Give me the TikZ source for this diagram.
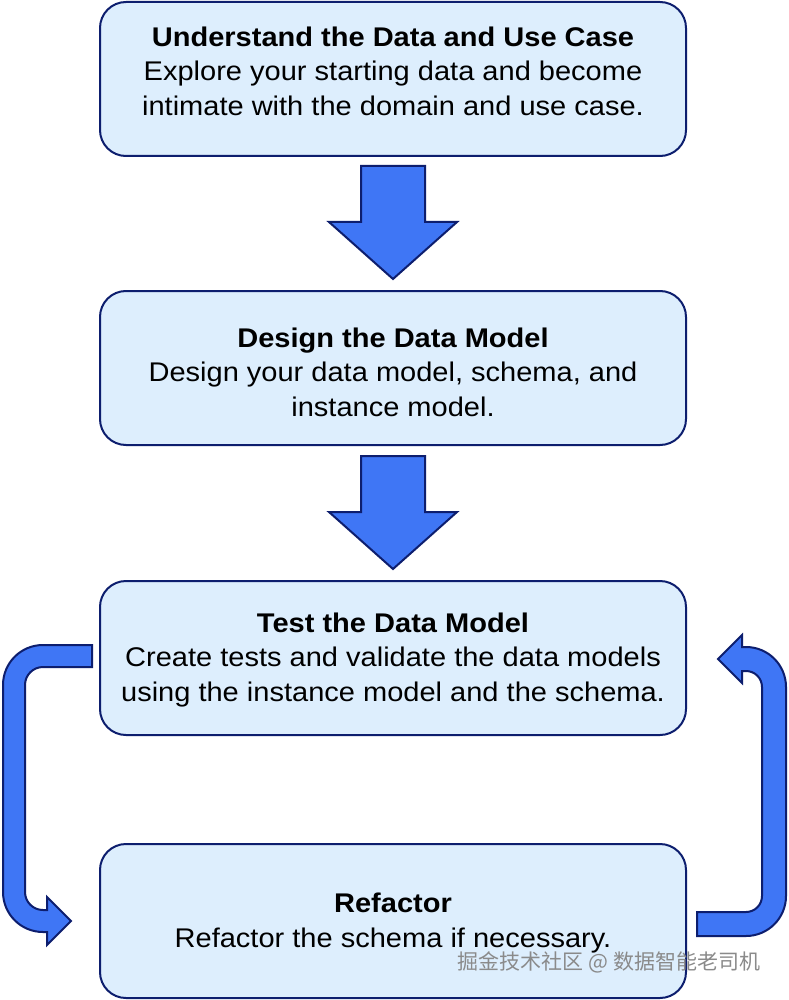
\documentclass[tikz,border=0pt]{standalone}
\usepackage{fontspec}
\setmainfont{Liberation Sans}[FakeStretch=1.075]
\newfontfamily\cjk{Noto Sans CJK SC}
\usetikzlibrary{calc}
\definecolor{boxfill}{HTML}{DDEEFD}
\definecolor{navy}{HTML}{0D1E6E}
\definecolor{arrowblue}{HTML}{3F76F5}
\definecolor{wmgray}{HTML}{8A8A8A}
\begin{document}
\begin{tikzpicture}[x=1pt,y=1pt,
  stepbox/.style={draw=navy, line width=2pt, fill=boxfill, rounded corners=26pt,
    minimum width=586pt, minimum height=154pt, inner sep=0pt},
  boxtext/.style={align=center, font=\fontsize{27pt}{34.5pt}\selectfont, text=black},
  bigarrow/.style={draw=navy, line width=2pt, fill=arrowblue, line join=miter}]
\fill[white] (0,0) rectangle (788,-1000);
\useasboundingbox (0,0) rectangle (788,-1000);

\node[stepbox] (b1) at (393,-79) {};
\node[stepbox] (b2) at (393,-368) {};
\node[stepbox] (b3) at (393,-658) {};
\node[stepbox] (b4) at (393,-921) {};

\node[boxtext] (t1) at ($(b1.center)+(0,8)$) {\textbf{Understand the Data and Use Case}\\Explore your starting data and become\\intimate with the domain and use case.};
\node[boxtext] (t2) at ($(b2.center)+(0,-4)$) {\textbf{Design the Data Model}\\Design your data model, schema, and\\instance model.};
\node[boxtext] (t3) at ($(b3.center)+(0,-2)$) {\textbf{Test the Data Model}\\Create tests and validate the data models\\using the instance model and the schema.};
\node[boxtext] (t4) at ($(b4.center)+(0,-2)$) {\textbf{Refactor}\\Refactor the schema if necessary.};

% straight down arrows
\draw[bigarrow] (361,-166) -- (425,-166) -- (425,-222) -- (457,-222) -- (393,-279) -- (329,-222) -- (361,-222) -- cycle;
\draw[bigarrow] (361,-456) -- (425,-456) -- (425,-512) -- (457,-512) -- (393,-569) -- (329,-512) -- (361,-512) -- cycle;

% left curved arrow (test -> refactor)
\draw[bigarrow] (92,-645) -- (43,-645) arc[start angle=90, end angle=180, radius=40pt]
  -- (3,-892) arc[start angle=180, end angle=270, radius=40pt]
  -- (47,-932) -- (47,-945) -- (71,-921) -- (47,-897) -- (47,-910) -- (43,-910)
  arc[start angle=270, end angle=180, radius=18pt]
  -- (25,-685) arc[start angle=180, end angle=90, radius=18pt]
  -- (92,-667) -- cycle;

% right curved arrow (refactor -> test)
\draw[bigarrow] (697,-912) -- (746,-912) arc[start angle=-90, end angle=0, radius=16pt]
  -- (762,-687) arc[start angle=0, end angle=90, radius=16pt]
  -- (742,-671) -- (742,-683) -- (718,-659) -- (742,-635) -- (742,-647) -- (746,-647)
  arc[start angle=90, end angle=0, radius=40pt]
  -- (786,-896) arc[start angle=0, end angle=-90, radius=40pt]
  -- (697,-936) -- cycle;

% watermark
\node[text=wmgray, font=\cjk\fontsize{21pt}{24pt}\selectfont, inner sep=0pt] (wm) at (609,-962) {掘金技术社区 @ 数据智能老司机};
\end{tikzpicture}
\end{document}
